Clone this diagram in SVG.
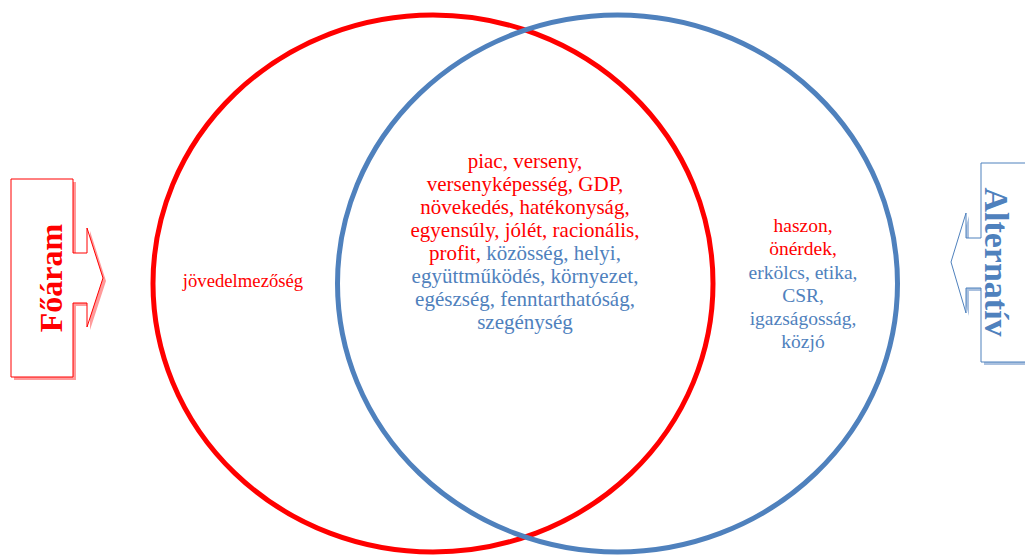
<svg xmlns="http://www.w3.org/2000/svg" width="1025" height="555" viewBox="0 0 1025 555">
<style>
.ser{font-family:"Liberation Serif","Times New Roman",serif}
.cam{font-family:"Liberation Serif","Times New Roman",serif;font-size:21px;text-anchor:middle}
.r{fill:#FF0000}
.b{fill:#4F81BD}
.side{font-size:19.5px;text-anchor:middle}
</style>
<rect width="1025" height="555" fill="#ffffff"/>
<g id="set-mainstream">
<ellipse cx="433" cy="283.5" rx="280" ry="268.5" fill="none" stroke="#FF0000" stroke-width="5"/>
</g>
<g id="set-alternative">
<ellipse cx="617.5" cy="283.5" rx="280" ry="268.5" fill="none" stroke="#4F81BD" stroke-width="5"/>
</g>
<g id="arrow-foaram">
<path d="M14,182 H76 V256 H90 V231 L106,281 L90,330 V306 H76 V380 H14 Z" fill="#FF9B9B" stroke="none"/>
<path d="M11,179 H73 V253 H87 V228 L103,278 L87,327 V303 H73 V377 H11 Z" fill="#ffffff" stroke="#FF0000" stroke-width="1"/>
<text class="ser r" transform="translate(62,278) rotate(-90)" font-size="32" font-weight="bold" text-anchor="middle">Főáram</text>
</g>
<g id="arrow-alternativ">
<path d="M1030,166 H984 V241 H969 V216 L954,265 L969,316 V291 H984 V365 H1030 Z" fill="#A9C0DF" stroke="none"/>
<path d="M1030,163 H981 V238 H966 V213 L951,262 L966,313 V288 H981 V362 H1030 Z" fill="#ffffff" stroke="#4F81BD" stroke-width="1"/>
<text class="ser b" transform="translate(985,262) rotate(90)" font-size="34" font-weight="bold" text-anchor="middle">Alternatív</text>
</g>
<g id="label-left">
<text class="ser r" x="243" y="287" font-size="18.7" text-anchor="middle">jövedelmezőség</text>
</g>
<g id="label-center">
<text class="cam r" x="525" y="168">piac, verseny,</text>
<text class="cam r" x="525" y="191">versenyképesség, GDP,</text>
<text class="cam r" x="525" y="214">növekedés, hatékonyság,</text>
<text class="cam r" x="525" y="237">egyensúly, jólét, racionális,</text>
<text class="cam" x="525" y="260"><tspan class="r">profit,</tspan><tspan class="b"> közösség, helyi,</tspan></text>
<text class="cam b" x="525" y="283">együttműködés, környezet,</text>
<text class="cam b" x="525" y="306">egészség, fenntarthatóság,</text>
<text class="cam b" x="525" y="329">szegénység</text>
</g>
<g id="label-right">
<text class="ser side r" x="803" y="232">haszon,</text>
<text class="ser side r" x="803" y="255">önérdek,</text>
<text class="ser side b" x="803" y="279">erkölcs, etika,</text>
<text class="ser side b" x="803" y="302">CSR,</text>
<text class="ser side b" x="803" y="325">igazságosság,</text>
<text class="ser side b" x="803" y="348">közjó</text>
</g>
</svg>
